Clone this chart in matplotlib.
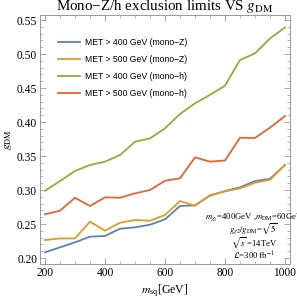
import matplotlib
matplotlib.use("Agg")
import matplotlib.pyplot as plt
from matplotlib.ticker import MultipleLocator

plt.rcParams["font.family"] = ["Liberation Serif", "DejaVu Serif"]
plt.rcParams["mathtext.fontset"] = "stix"

m_sq = [200, 250, 300, 350, 400, 450, 500, 550, 600, 650, 700, 750, 800, 850, 900, 950, 1000]
met400_z = [0.2084, 0.2157, 0.2231, 0.2314, 0.2324, 0.2431, 0.2451, 0.2490, 0.2569, 0.2765,
            0.2775, 0.2917, 0.2985, 0.3040, 0.3132, 0.3165, 0.3370]
met500_z = [0.2265, 0.2288, 0.2288, 0.2534, 0.2402, 0.2519, 0.2559, 0.2549, 0.2632, 0.2838,
            0.2769, 0.2925, 0.2980, 0.3025, 0.3107, 0.3150, 0.3370]
met400_h = [0.2990, 0.3132, 0.3280, 0.3368, 0.3417, 0.3515, 0.3710, 0.3760, 0.3907, 0.4118,
            0.4275, 0.4400, 0.4534, 0.4912, 0.5010, 0.5230, 0.5390]
met500_h = [0.2643, 0.2696, 0.2887, 0.2765, 0.2892, 0.2887, 0.2951, 0.3000, 0.3137, 0.3172,
            0.3480, 0.3417, 0.3435, 0.3769, 0.3765, 0.3917, 0.4088]

series = [
    (met400_z, "MET > 400 GeV (mono\u2212Z)", "#5E81B5"),
    (met500_z, "MET > 500 GeV (mono\u2212Z)", "#E19C24"),
    (met400_h, "MET > 400 GeV (mono\u2212h)", "#8FB032"),
    (met500_h, "MET > 500 GeV (mono\u2212h)", "#EB6235"),
]

fig = plt.figure(figsize=(2.97, 2.99), dpi=100)
ax = fig.add_axes([0.1347, 0.117, 0.8417, 0.8328])

for ys, label, color in series:
    ax.plot(m_sq, ys, color=color, lw=1.3, label=label)

ax.set_xlim(183.3, 1016.7)
ax.set_ylim(0.1912, 0.5574)
ax.xaxis.set_major_locator(MultipleLocator(200))
ax.xaxis.set_minor_locator(MultipleLocator(50))
ax.yaxis.set_major_locator(MultipleLocator(0.05))
ax.yaxis.set_minor_locator(MultipleLocator(0.01))
ax.yaxis.set_major_formatter(lambda v, p: f"{v:.2f}")
ax.tick_params(which="both", direction="in", top=True, right=True, color="#999999",
               labelsize=8.3, pad=2)
ax.tick_params(which="major", length=4, width=0.6)
ax.tick_params(which="minor", length=2, width=0.5)
ax.tick_params(axis="x", labeltop=False)
ax.tick_params(axis="y", labelright=False)
for s in ax.spines.values():
    s.set_color("#999999")
    s.set_linewidth(0.7)

ax.set_title("Mono\u2212Z/h exclusion limits VS $g_{\\mathrm{DM}}$", fontsize=10.8, pad=1)
ax.set_xlabel("$m_{\\mathrm{sq}}$[GeV]", fontsize=8.5, labelpad=3)
ax.set_ylabel("$g_{\\mathrm{DM}}$", fontsize=8.5, labelpad=2)

leg = ax.legend(loc="upper left", bbox_to_anchor=(0.04, 0.94), frameon=False,
                prop={"family": "Liberation Sans", "size": 6.2}, handlelength=2.6,
                handletextpad=0.6, labelspacing=0.95)

notes = [
    "$m_{\\chi_2}$=400GeV ,$m_{\\mathrm{DM}}$=60GeV",
    "$g_{\\chi 2}/g_{\\mathrm{DM}}$=$\\sqrt{5}$",
    "$\\sqrt{s}$ =14TeV",
    "$\\mathcal{L}$=300 fb$^{-1}$",
]
for i, t in enumerate(notes):
    ax.text(0.855, 0.19 - i * 0.053, t, transform=ax.transAxes, ha="center", va="center",
            fontsize=6.2)

fig.savefig("out.png", dpi=100)
